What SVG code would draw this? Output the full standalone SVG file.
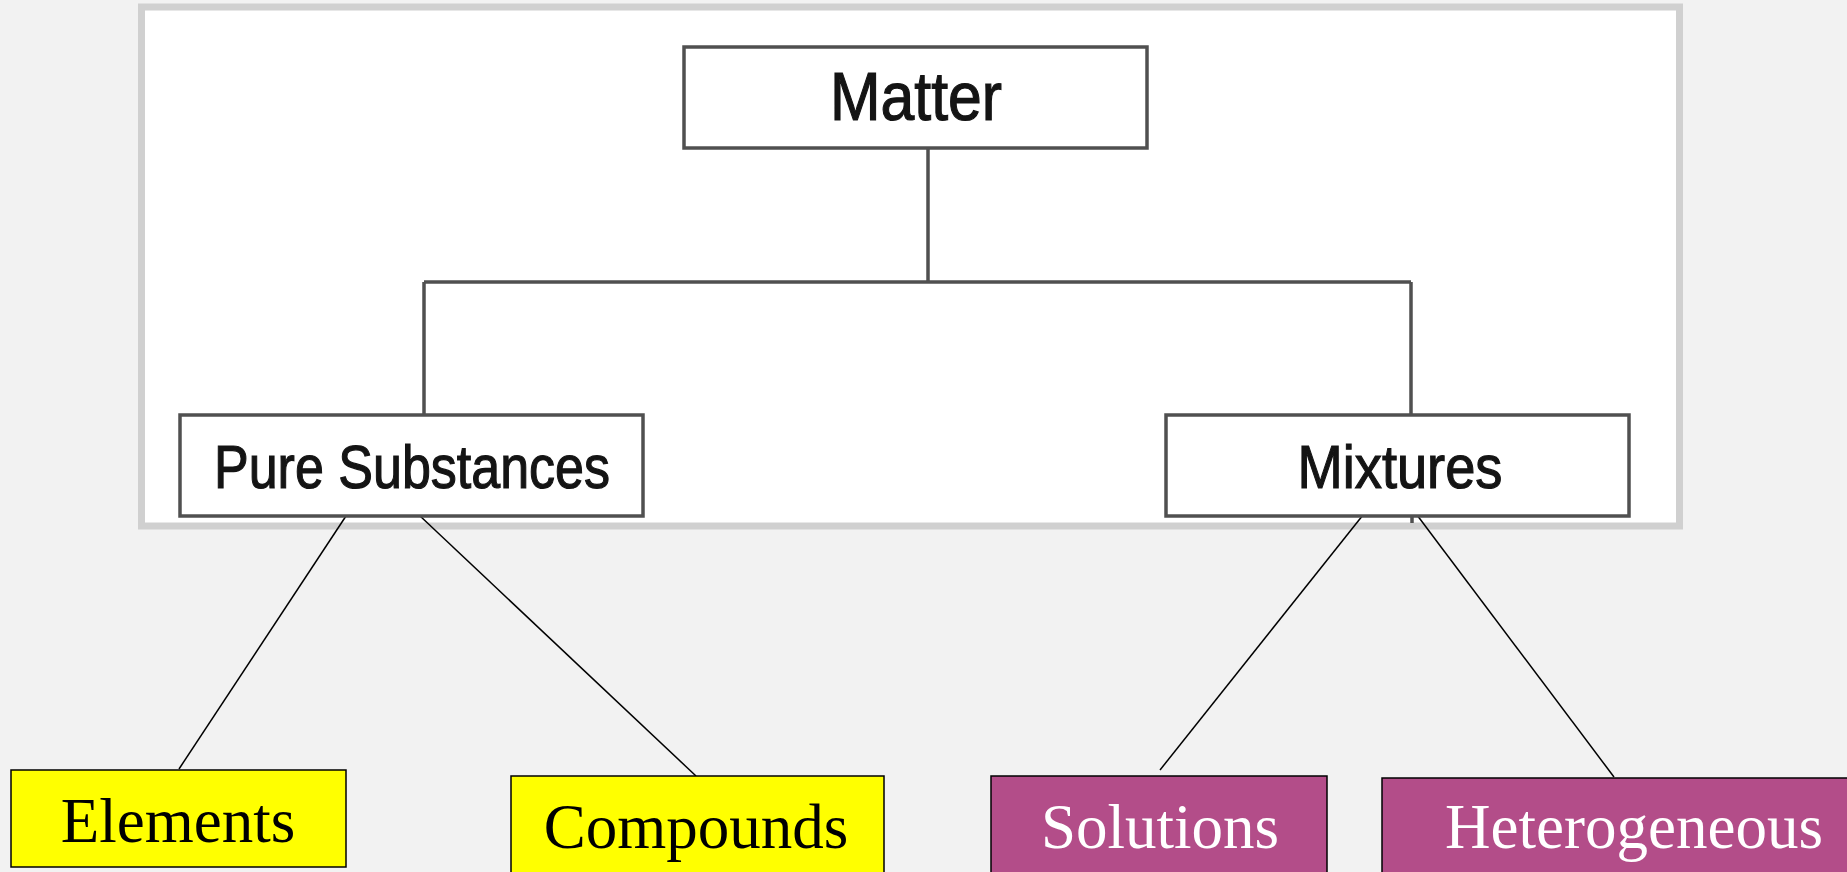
<svg xmlns="http://www.w3.org/2000/svg" width="1847" height="872" viewBox="0 0 1847 872">
<style>
.tbox{fill:#ffffff;stroke:#505050;stroke-width:3.5}
.ttxt{font-family:"Liberation Sans",Arial,sans-serif;fill:#141414;stroke:#141414;stroke-width:1.2;text-anchor:middle}
.tree{stroke:#505050;stroke-width:3.5;fill:none}
.conn{stroke:#000000;stroke-width:1.5;fill:none}
.ybox{fill:#ffff00;stroke:#000000;stroke-width:1.5}
.mbox{fill:#b34d89;stroke:#000000;stroke-width:1.5}
.btxt{font-family:"Liberation Serif","Times New Roman",serif;font-size:63px;text-anchor:middle}
</style>
<rect x="0" y="0" width="1847" height="872" fill="#f2f2f2"/>
<rect id="frame" x="141.5" y="7" width="1538" height="519" fill="#ffffff" stroke="#d0d0d0" stroke-width="7"/>
<g id="connectors">
<path class="tree" d="M928 148 V282 M424 282 H1411 M424 282 V415 M1411 282 V415 M1412 516 V523"/>
<line class="conn" x1="346" y1="516" x2="179" y2="769"/>
<line class="conn" x1="419" y1="515" x2="696" y2="776"/>
<line class="conn" x1="1363" y1="515" x2="1160" y2="770"/>
<line class="conn" x1="1417" y1="515" x2="1614" y2="777"/>
</g>
<g id="matter">
<rect class="tbox" x="684" y="47" width="463" height="101"/>
<text class="ttxt" x="916" y="120" font-size="68" textLength="172" lengthAdjust="spacingAndGlyphs">Matter</text>
</g>
<g id="pure">
<rect class="tbox" x="180" y="415" width="463" height="101"/>
<text class="ttxt" x="412" y="488" font-size="62" textLength="396" lengthAdjust="spacingAndGlyphs">Pure Substances</text>
</g>
<g id="mixtures">
<rect class="tbox" x="1166" y="415" width="463" height="101"/>
<text class="ttxt" x="1400" y="488" font-size="62" textLength="205" lengthAdjust="spacingAndGlyphs">Mixtures</text>
</g>
<g id="elements">
<rect class="ybox" x="11" y="770" width="335" height="97"/>
<text class="btxt" x="178" y="842" fill="#000000">Elements</text>
</g>
<g id="compounds">
<rect class="ybox" x="511" y="776" width="373" height="110"/>
<text class="btxt" x="696" y="848" fill="#000000">Compounds</text>
</g>
<g id="solutions">
<rect class="mbox" x="991" y="776" width="336" height="110"/>
<text class="btxt" x="1160" y="848" fill="#ffffff">Solutions</text>
</g>
<g id="heterogeneous">
<rect class="mbox" x="1382" y="778" width="480" height="110"/>
<text class="btxt" x="1634" y="848" fill="#ffffff">Heterogeneous</text>
</g>
</svg>
